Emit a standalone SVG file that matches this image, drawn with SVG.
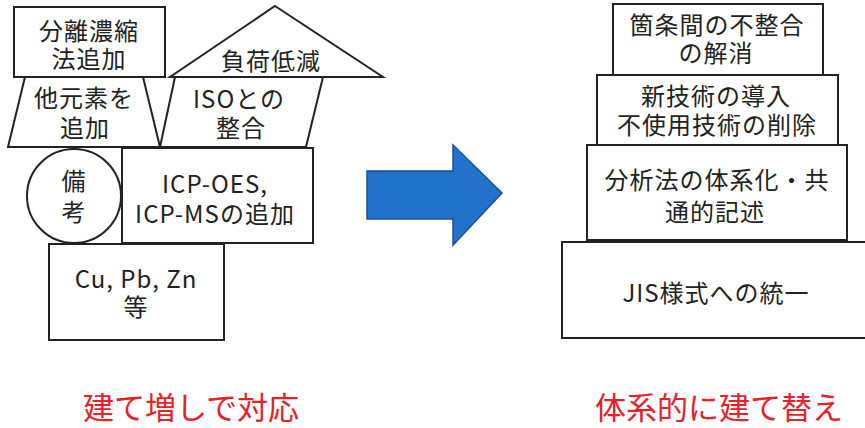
<svg xmlns="http://www.w3.org/2000/svg" width="865" height="428" viewBox="0 0 865 428">
<style>
.s{fill:#fff;stroke:#222;stroke-width:2}
.t{font-family:"Noto Sans CJK JP","Noto Sans",sans-serif;font-size:24px;letter-spacing:1px;fill:#222;text-anchor:middle}
.r{font-family:"Noto Sans CJK JP",sans-serif;font-size:31px;fill:#e8202a;text-anchor:middle}
</style>
<rect width="865" height="428" fill="#fff"/>
<g id="bunri"><rect class="s" x="14" y="7" width="151" height="70"/><text class="t" x="89" y="40">分離濃縮</text><text class="t" x="89" y="68">法追加</text></g>
<g id="fuka"><polygon class="s" points="275,6 383,77 170,77"/><text class="t" x="271" y="70">負荷低減</text></g>
<g id="tagenso"><polygon class="s" points="25,77 143,77 160,147 8,147"/><text class="t" x="84" y="107">他元素を</text><text class="t" x="85" y="137">追加</text></g>
<g id="iso"><polygon class="s" points="175,77 323,77 306,147 160,147"/><text class="t" x="239" y="108">ISOとの</text><text class="t" x="241" y="137">整合</text></g>
<g id="icp"><rect class="s" x="122" y="148" width="191" height="95"/><text class="t" x="215" y="193">ICP-OES,</text><text class="t" x="215" y="223">ICP-MSの追加</text></g>
<g id="biko"><circle class="s" cx="74" cy="196" r="47"/><text class="t" x="74" y="190">備</text><text class="t" x="74" y="221">考</text></g>
<g id="cu"><rect class="s" x="49" y="244" width="175" height="96"/><text class="t" x="136" y="288">Cu, Pb, Zn</text><text class="t" x="136" y="316">等</text></g>
<g id="connectors"><polygon points="367,171 453,171 453,145 502,193 453,245 453,219 367,219" fill="#2272cc" stroke="#1d4f9c" stroke-width="1.5"/></g>
<g id="kajo"><rect class="s" x="613" y="4" width="210" height="71"/><text class="t" x="717" y="34">箇条間の不整合</text><text class="t" x="716" y="62">の解消</text></g>
<g id="shin"><rect class="s" x="597" y="75" width="241" height="70"/><text class="t" x="716" y="105">新技術の導入</text><text class="t" x="717" y="134">不使用技術の削除</text></g>
<g id="bunseki"><rect class="s" x="587" y="145" width="260" height="95"/><text class="t" x="717" y="189">分析法の体系化・共</text><text class="t" x="715" y="221">通的記述</text></g>
<g id="jis"><rect class="s" x="562" y="242" width="310" height="96"/><text class="t" x="716" y="302">JIS様式への統一</text></g>
<text class="r" x="191" y="419">建て増しで対応</text>
<text class="r" x="719" y="419">体系的に建て替え</text>
</svg>
